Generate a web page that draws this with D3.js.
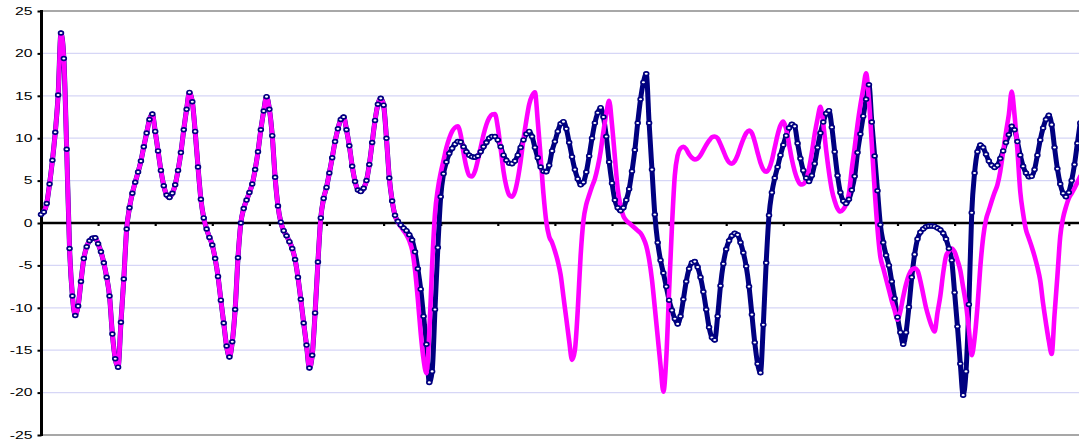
<!DOCTYPE html>
<html><head><meta charset="utf-8">
<script src="https://cdn.jsdelivr.net/npm/d3@7"></script>
<style>html,body{margin:0;padding:0;background:#fff;} svg{display:block;}</style>
</head><body>
<svg id="chart" width="1079" height="441"></svg>
<script>
// ---- data ----
const yTicks = [25, 20, 15, 10, 5, 0, -5, -10, -15, -20, -25];
const gridValues = [20, 15, 10, 5, -5, -10, -15, -20];
const samplesPerTick = 20;           // one x-axis tick every 20 samples
const tickCount = 18;                // ticks drawn along the zero line

// navy series (line with ring markers)
const navy = [
 1.0, 1.3, 2.3, 4.6, 7.4, 10.7, 15.1, 22.4, 19.4, 8.7, -3.0, -8.6, -10.9, -9.8, -6.9, -4.2, -2.8, -2.1, -1.8, -1.75,
 -2.45, -3.4, -4.7, -6.4, -8.6, -13.1, -16.0, -17.0, -11.7, -6.6, -0.7, 1.8, 3.5, 4.8, 6.0, 7.3, 9.0, 10.6, 12.2, 12.85,
 10.8, 8.5, 6.2, 4.4, 3.3, 3.0, 3.5, 4.5, 6.2, 8.3, 11.0, 13.4, 15.4, 14.3, 10.8, 6.6, 2.8, 0.6, -0.7, -1.7,
 -2.6, -4.2, -6.3, -9.1, -11.8, -14.5, -15.8, -14.0, -10.2, -4.1, 0.0, 1.7, 2.7, 3.6, 4.6, 6.3, 8.4, 11.0, 13.2, 14.9,
 13.4, 10.3, 5.4, 2.0, 0.1, -0.9, -1.5, -2.2, -3.0, -4.3, -6.4, -9.0, -11.8, -14.4, -17.1, -15.6, -10.6, -4.6, 0.6, 2.9,
 4.2, 5.9, 7.7, 9.6, 11.1, 12.2, 12.5, 11.0, 9.1, 6.7, 4.9, 3.9, 3.7, 4.1, 5.0, 6.9, 9.5, 12.1, 14.0, 14.7,
 13.9, 10.0, 5.3, 2.6, 0.9, 0.2, -0.25, -0.6, -0.9, -1.4, -2.0, -3.4, -5.4, -7.8, -11.0, -14.3, -18.8, -17.5, -10.2, -2.9,
 3.1, 5.8, 7.2, 8.2, 8.8, 9.3, 9.6, 9.55, 9.0, 8.4, 8.0, 7.8, 7.75, 7.9, 8.4, 9.0, 9.5, 10.0, 10.2, 10.2,
 9.8, 9.0, 8.0, 7.4, 7.05, 7.0, 7.3, 8.0, 8.9, 9.8, 10.5, 10.8, 10.2, 8.9, 7.7, 6.6, 6.1, 6.05, 6.8, 8.5,
 9.6, 10.8, 11.7, 11.95, 11.1, 9.5, 7.8, 6.3, 5.2, 4.5, 4.8, 6.0, 7.9, 10.0, 11.8, 13.0, 13.6, 12.5, 10.2, 7.2,
 4.7, 2.7, 1.8, 1.45, 1.8, 2.7, 4.0, 6.1, 8.6, 11.8, 14.6, 16.6, 17.6, 11.8, 6.3, 1.0, -2.3, -4.4, -5.9, -7.5,
 -9.1, -10.3, -11.3, -11.9, -11.0, -9.0, -6.9, -5.4, -4.7, -4.55, -5.2, -6.4, -8.1, -10.2, -12.3, -13.5, -13.8, -11.0, -7.4, -4.8,
 -3.1, -2.1, -1.5, -1.2, -1.4, -2.3, -3.5, -5.1, -7.5, -10.8, -14.1, -16.6, -17.65, -12.0, -4.7, 0.9, 3.6, 5.3, 6.6, 8.0,
 9.2, 10.3, 11.2, 11.65, 11.4, 9.4, 7.6, 6.2, 5.3, 4.9, 5.6, 7.0, 8.9, 10.6, 11.9, 12.9, 13.25, 11.3, 8.4, 5.6,
 3.6, 2.6, 2.3, 2.8, 3.9, 5.5, 8.3, 10.5, 12.6, 14.6, 16.3, 11.9, 7.9, 3.8, -0.2, -2.3, -3.8, -5.0, -6.9, -8.9,
 -11.1, -12.9, -14.3, -12.9, -9.9, -6.4, -3.7, -1.9, -1.1, -0.7, -0.45, -0.35, -0.35, -0.4, -0.6, -0.8, -1.2, -1.9, -3.0, -4.4,
 -8.2, -12.2, -16.6, -20.3, -17.5, -9.6, 1.2, 5.9, 8.4, 9.2, 8.9, 8.1, 7.3, 6.8, 6.55, 6.8, 7.6, 8.5, 9.5, 10.4,
 11.4, 11.0, 9.6, 8.0, 6.7, 5.9, 5.45, 5.5, 6.3, 8.0, 9.8, 11.2, 12.2, 12.7, 11.6, 8.9, 6.4, 4.6, 3.5, 3.1,
 3.6, 5.0, 6.9, 9.4, 11.8
];

// magenta series (plain thick line)
const magenta = [
 1.0, 1.3, 2.3, 4.6, 7.4, 10.7, 15.1, 22.4, 19.4, 8.7, -3.0, -8.6, -10.9, -9.8, -6.9, -4.2, -2.8, -2.1, -1.8, -1.75,
 -2.45, -3.4, -4.7, -6.4, -8.6, -13.1, -16.0, -17.0, -11.7, -6.6, -0.7, 1.8, 3.5, 4.8, 6.0, 7.3, 9.0, 10.6, 12.2, 12.85,
 10.8, 8.5, 6.2, 4.4, 3.3, 3.0, 3.5, 4.5, 6.2, 8.3, 11.0, 13.4, 15.4, 14.3, 10.8, 6.6, 2.8, 0.6, -0.7, -1.7,
 -2.6, -4.2, -6.3, -9.1, -11.8, -14.5, -15.8, -14.0, -10.2, -4.1, 0.0, 1.7, 2.7, 3.6, 4.6, 6.3, 8.4, 11.0, 13.2, 14.9,
 13.4, 10.3, 5.4, 2.0, 0.1, -0.9, -1.5, -2.2, -3.0, -4.3, -6.4, -9.0, -11.8, -14.4, -17.1, -15.6, -10.6, -4.6, 0.6, 2.9,
 4.2, 5.9, 7.7, 9.6, 11.1, 12.2, 12.5, 11.0, 9.1, 6.7, 4.9, 3.9, 3.7, 4.1, 5.0, 6.9, 9.5, 12.1, 14.0, 14.7,
 13.9, 10.0, 5.3, 2.6, 0.9, 0.1, -0.4, -0.9, -1.4, -2.1, -3.2, -5.5, -9.0, -13.0, -16.1, -17.7, -13.0, -5.0, 1.1, 4.0,
 5.9, 7.4, 8.9, 10.0, 10.8, 11.25, 11.4, 10.4, 8.3, 6.6, 5.6, 5.5, 6.1, 7.4, 8.9, 10.4, 11.6, 12.4, 12.8, 12.85,
 11.3, 8.8, 6.1, 4.3, 3.3, 3.1, 3.7, 5.2, 7.3, 9.9, 12.1, 14.0, 15.0, 15.4, 12.0, 7.8, 3.4, 0.1, -1.6, -2.3,
 -3.3, -4.5, -6.1, -8.7, -11.3, -13.9, -16.15, -15.0, -10.3, -3.9, 0.3, 2.2, 3.3, 4.3, 5.2, 6.6, 8.4, 10.8, 12.9, 14.4,
 11.6, 7.8, 4.0, 2.0, 0.8, 0.3, 0.0, -0.3, -0.6, -0.9, -1.2, -1.8, -2.7, -4.3, -6.7, -10.0, -13.4, -16.8, -19.9, -16.0,
 -8.0, -0.4, 5.6, 8.0, 8.8, 9.0, 8.7, 8.1, 7.7, 7.5, 7.6, 8.0, 8.6, 9.2, 9.7, 10.1, 10.2, 10.0, 9.3, 8.5,
 7.7, 7.15, 7.0, 7.3, 8.0, 9.0, 9.9, 10.6, 10.9, 10.6, 9.6, 8.3, 7.1, 6.3, 6.05, 6.4, 7.4, 8.9, 10.4, 11.5,
 11.95, 11.1, 9.3, 7.5, 6.1, 5.1, 4.55, 4.6, 5.1, 6.4, 8.3, 10.5, 12.3, 13.7, 11.7, 8.6, 6.0, 3.9, 2.6, 1.7,
 1.35, 1.6, 2.2, 3.5, 6.4, 8.9, 11.6, 13.9, 15.8, 17.65, 14.5, 9.3, 3.9, -0.7, -4.0, -5.3, -6.6, -7.9, -9.2, -10.3,
 -11.4, -10.4, -8.7, -7.2, -6.1, -5.5, -5.35, -5.6, -6.8, -8.4, -10.0, -11.2, -12.2, -12.8, -10.6, -8.6, -5.9, -3.9, -3.3, -3.0,
 -3.4, -4.4, -5.6, -7.6, -9.6, -12.55, -15.6, -13.6, -9.9, -5.2, -1.7, 0.4, 1.5, 2.6, 3.6, 4.5, 6.1, 8.4, 10.7, 12.8,
 15.5, 12.7, 8.6, 3.7, 1.1, -0.8, -1.8, -2.8, -3.9, -5.2, -6.8, -9.5, -11.8, -13.9, -15.45, -10.8, -6.3, -1.6, 0.6, 1.9,
 2.9, 3.5, 4.1, 4.8, 5.5
];

// ---- layout ----
const svg = d3.select('#chart');
const W = 1079, H = 441;
const plotLeft = 41, plotTop = 11, plotBottom = 435;
const tickPx = 57.1;
const n = navy.length;

const x = d3.scaleLinear()
  .domain([0, n - 1])
  .range([plotLeft, plotLeft + (n - 1) * tickPx / samplesPerTick]);
const y = d3.scaleLinear().domain([-25, 25]).range([plotBottom, plotTop]);

svg.append('rect').attr('width', W).attr('height', H).attr('fill', '#fff');

// gridlines
svg.append('g').selectAll('line').data(gridValues).join('line')
  .attr('x1', plotLeft).attr('x2', W)
  .attr('y1', d => y(d)).attr('y2', d => y(d))
  .attr('stroke', '#d6d6f6').attr('stroke-width', 1.3);

// plot border top / bottom
svg.append('line').attr('x1', plotLeft).attr('x2', W)
  .attr('y1', y(25)).attr('y2', y(25))
  .attr('stroke', '#a8a8a8').attr('stroke-width', 2);
svg.append('line').attr('x1', plotLeft).attr('x2', W)
  .attr('y1', y(-25)).attr('y2', y(-25))
  .attr('stroke', '#8a8a8a').attr('stroke-width', 1.4);

// x axis along zero line with tick marks
const xAxis = d3.axisBottom(x)
  .tickValues(d3.range(1, tickCount + 1).map(k => k * samplesPerTick))
  .tickSize(3).tickSizeOuter(0).tickFormat('');
const gx = svg.append('g').attr('transform', `translate(0,${y(0)})`).call(xAxis);
gx.select('.domain').remove();
gx.selectAll('.tick line').attr('stroke', '#000').attr('stroke-width', 2.2);
svg.append('line').attr('x1', plotLeft).attr('x2', W)
  .attr('y1', y(0)).attr('y2', y(0))
  .attr('stroke', '#000').attr('stroke-width', 2.6);

// y axis
const yAxis = d3.axisLeft(y).tickValues(yTicks).tickSize(4).tickSizeOuter(0).tickFormat('');
const gy = svg.append('g').attr('transform', `translate(${plotLeft + 0.5},0)`).call(yAxis);
gy.select('.domain').remove();
gy.selectAll('.tick line').attr('stroke', '#000').attr('stroke-width', 2);
svg.append('line').attr('x1', plotLeft + 0.5).attr('x2', plotLeft + 0.5)
  .attr('y1', y(25) - 1).attr('y2', y(-25) + 1)
  .attr('stroke', '#000').attr('stroke-width', 3);

// y labels (wide, short text as in the reference)
svg.append('g').selectAll('text').data(yTicks).join('text')
  .attr('transform', d => `translate(32.5,${y(d)}) scale(1.5,1)`)
  .attr('text-anchor', 'end')
  .attr('dy', '0.36em')
  .attr('font-family', '"Liberation Sans", Arial, sans-serif')
  .attr('font-size', '10.5px')
  .attr('fill', '#000')
  .text(d => String(d));

// series
const line = d3.line().x((d, i) => x(i)).y(d => y(d)).curve(d3.curveMonotoneX);

svg.append('path').datum(navy).attr('d', line)
  .attr('fill', 'none').attr('stroke', '#000080').attr('stroke-width', 5)
  .attr('stroke-linejoin', 'round').attr('stroke-linecap', 'round');

svg.append('path').datum(magenta).attr('d', line)
  .attr('fill', 'none').attr('stroke', '#ff00ff').attr('stroke-width', 4.6)
  .attr('stroke-linejoin', 'round').attr('stroke-linecap', 'round');

svg.append('g').selectAll('ellipse').data(navy).join('ellipse')
  .attr('cx', (d, i) => x(i)).attr('cy', d => y(d))
  .attr('rx', 2.4).attr('ry', 1.9)
  .attr('fill', '#fff').attr('stroke', '#000080').attr('stroke-width', 1.7);
</script>
</body></html>
